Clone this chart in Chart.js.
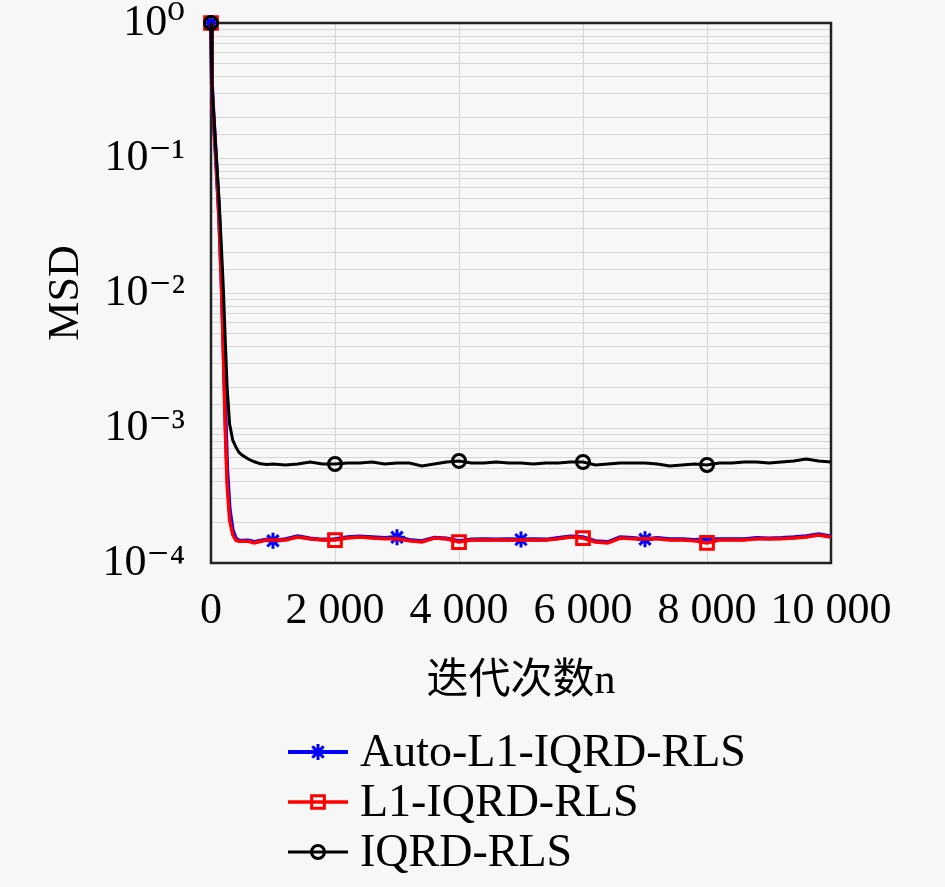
<!DOCTYPE html>
<html>
<head>
<meta charset="utf-8">
<script src="https://cdn.jsdelivr.net/npm/chart.js@4.4.1/dist/chart.umd.min.js"></script>
<style>
  html, body { margin: 0; padding: 0; background: #f7f7f7; }
  #wrap { width: 945px; height: 887px; }
</style>
</head>
<body>
<div id="wrap"><canvas id="msdChart" width="945" height="887"></canvas></div>
<script>
const iterations = [0, 15, 30, 80, 130, 170, 200, 230, 260, 300, 350, 400, 450, 500, 600, 700, 800, 900,
  1000, 1200, 1400, 1600, 1800, 2000, 2200, 2400, 2600, 2800, 3000, 3200, 3400, 3600, 3800,
  4000, 4200, 4400, 4600, 4800, 5000, 5200, 5400, 5600, 5800, 6000, 6200, 6400, 6600, 6800,
  7000, 7200, 7400, 7600, 7800, 8000, 8200, 8400, 8600, 8800, 9000, 9200, 9400, 9600, 9800, 10000];

const autoL1Msd = [1, 0.355, 0.251, 0.1, 0.038, 0.0126, 0.0045, 0.0014, 5.0e-4, 2.5e-4, 1.75e-4, 1.52e-4, 1.47e-4, 1.46e-4, 1.47e-4, 1.43e-4, 1.46e-4, 1.49e-4,
  1.46e-4, 1.50e-4, 1.58e-4, 1.52e-4, 1.49e-4, 1.50e-4, 1.55e-4, 1.57e-4, 1.55e-4, 1.53e-4, 1.55e-4, 1.48e-4, 1.45e-4, 1.54e-4, 1.52e-4,
  1.45e-4, 1.49e-4, 1.50e-4, 1.49e-4, 1.50e-4, 1.49e-4, 1.50e-4, 1.49e-4, 1.53e-4, 1.57e-4, 1.55e-4, 1.45e-4, 1.43e-4, 1.55e-4, 1.53e-4,
  1.50e-4, 1.53e-4, 1.50e-4, 1.50e-4, 1.48e-4, 1.50e-4, 1.50e-4, 1.50e-4, 1.50e-4, 1.53e-4, 1.52e-4, 1.53e-4, 1.55e-4, 1.58e-4, 1.63e-4, 1.57e-4];

const l1Msd = [1, 0.355, 0.251, 0.1, 0.0355, 0.0112, 0.00355, 0.001, 3.8e-4, 2.09e-4, 1.62e-4, 1.48e-4, 1.45e-4, 1.45e-4, 1.45e-4, 1.41e-4, 1.45e-4, 1.48e-4,
  1.48e-4, 1.48e-4, 1.56e-4, 1.51e-4, 1.48e-4, 1.48e-4, 1.53e-4, 1.56e-4, 1.53e-4, 1.51e-4, 1.51e-4, 1.46e-4, 1.43e-4, 1.53e-4, 1.51e-4,
  1.43e-4, 1.48e-4, 1.48e-4, 1.48e-4, 1.48e-4, 1.48e-4, 1.48e-4, 1.48e-4, 1.51e-4, 1.56e-4, 1.53e-4, 1.43e-4, 1.41e-4, 1.53e-4, 1.51e-4,
  1.51e-4, 1.51e-4, 1.48e-4, 1.48e-4, 1.46e-4, 1.41e-4, 1.48e-4, 1.48e-4, 1.48e-4, 1.51e-4, 1.51e-4, 1.51e-4, 1.53e-4, 1.56e-4, 1.61e-4, 1.56e-4];

const iqrdMsd = [1, 0.355, 0.269, 0.112, 0.049, 0.0209, 0.0105, 0.00447, 0.0020, 0.00107, 8.13e-4, 7.24e-4, 6.61e-4, 6.31e-4, 5.89e-4, 5.62e-4, 5.43e-4, 5.37e-4,
  5.41e-4, 5.32e-4, 5.41e-4, 5.60e-4, 5.41e-4, 5.41e-4, 5.50e-4, 5.50e-4, 5.60e-4, 5.41e-4, 5.50e-4, 5.50e-4, 5.23e-4, 5.41e-4, 5.60e-4,
  5.70e-4, 5.50e-4, 5.50e-4, 5.60e-4, 5.50e-4, 5.50e-4, 5.41e-4, 5.50e-4, 5.50e-4, 5.60e-4, 5.60e-4, 5.32e-4, 5.41e-4, 5.50e-4, 5.50e-4,
  5.50e-4, 5.41e-4, 5.23e-4, 5.32e-4, 5.41e-4, 5.32e-4, 5.50e-4, 5.50e-4, 5.60e-4, 5.60e-4, 5.50e-4, 5.60e-4, 5.70e-4, 5.89e-4, 5.70e-4, 5.60e-4];

// where each curve carries a marker
const autoL1Marks = [0, 1000, 3000, 5000, 7000];
const l1Marks = [0, 2000, 4000, 6000, 8000];
const iqrdMarks = [0, 2000, 4000, 6000, 8000];

const seriesNames = ['Auto-L1-IQRD-RLS', 'L1-IQRD-RLS', 'IQRD-RLS'];
const xTicks = [0, 2000, 4000, 6000, 8000, 10000];
const yDecades = [1e-4, 1e-3, 1e-2, 1e-1, 1];

const serif = "'Liberation Serif', 'DejaVu Serif', serif";
const sup = { '0': '\u2070', '1': '\u00b9', '2': '\u00b2', '3': '\u00b3', '4': '\u2074', '-': '\u207b' };

const toPoints = (vals) => vals.map((v, i) => ({ x: iterations[i], y: v }));
const markRadius = (marks, r) => (ctx) => (ctx.raw && marks.includes(ctx.raw.x) ? r : 0);

const series = [
  { label: seriesNames[0], data: toPoints(autoL1Msd), color: '#0000ff', style: 'star', r: 8, marks: autoL1Marks, width: 4, order: 3 },
  { label: seriesNames[1], data: toPoints(l1Msd), color: '#ff0000', style: 'rect', r: 9, marks: l1Marks, width: 3.5, order: 2 },
  { label: seriesNames[2], data: toPoints(iqrdMsd), color: '#000000', style: 'circle', r: 6.5, marks: iqrdMarks, width: 3, order: 1 },
];

// page background
const bgPlugin = {
  id: 'bg',
  beforeDraw(chart) {
    const c = chart.ctx;
    c.save();
    c.fillStyle = '#f7f7f7';
    c.fillRect(0, 0, chart.width, chart.height);
    c.restore();
  },
  // box around the plot
  beforeDatasetsDraw(chart) {
    const { left, top, right, bottom } = chart.chartArea;
    const c = chart.ctx;
    c.save();
    c.strokeStyle = '#222';
    c.lineWidth = 2.5;
    c.strokeRect(left, top, right - left, bottom - top);
    c.restore();
  }
};

// legend stacked below the axes: line sample with marker, then the name
const lineLegend = {
  id: 'lineLegend',
  afterDraw(chart) {
    const c = chart.ctx;
    const drawPoint = Chart.helpers && Chart.helpers.drawPoint;
    c.save();
    series.forEach((s, i) => {
      const y = 752 + i * 50;
      c.strokeStyle = s.color;
      c.lineWidth = s.width;
      c.beginPath();
      c.moveTo(288, y);
      c.lineTo(348, y);
      c.stroke();
      if (drawPoint) {
        c.fillStyle = 'rgba(0,0,0,0)';
        c.strokeStyle = s.color;
        c.lineWidth = 3;
        drawPoint(c, { pointStyle: s.style, radius: s.r, rotation: 0, borderWidth: 3 }, 318, y);
      }
      c.fillStyle = '#000';
      c.font = '46px ' + serif;
      c.textBaseline = 'middle';
      c.textAlign = 'left';
      c.fillText(s.label, 360, y + 2);
    });
    c.restore();
  }
};

const ctx = document.getElementById('msdChart').getContext('2d');

new Chart(ctx, {
  type: 'line',
  data: {
    datasets: series.map((s) => ({
      label: s.label,
      data: s.data,
      borderColor: s.color,
      backgroundColor: 'rgba(0,0,0,0)',
      borderWidth: s.width,
      tension: 0,
      fill: false,
      clip: false,
      order: s.order,
      pointStyle: s.style,
      pointRadius: markRadius(s.marks, s.r),
      pointHoverRadius: 0,
      pointBorderColor: s.color,
      pointBackgroundColor: 'rgba(0,0,0,0)',
      pointBorderWidth: 3,
    })),
  },
  options: {
    responsive: false,
    animation: false,
    events: [],
    layout: { padding: { left: 0, right: 114, top: 23, bottom: 180 } },
    plugins: {
      legend: { display: false },
      tooltip: { enabled: false },
    },
    scales: {
      x: {
        type: 'linear',
        min: 0,
        max: 10000,
        afterFit: (scale) => {
          scale.height = 144;
          scale.paddingLeft = 0;
          scale.paddingRight = 0;
        },
        afterBuildTicks: (scale) => { scale.ticks = xTicks.map((v) => ({ value: v })); },
        grid: { color: '#d6d6d6', lineWidth: 1, drawTicks: false },
        border: { display: false },
        ticks: {
          padding: 26,
          maxRotation: 0,
          autoSkip: false,
          color: '#000',
          font: { family: serif, size: 44, lineHeight: 1 },
          callback: (v) => (v === 0 ? '0' : (v / 1000) + ' 000'),
        },
        title: {
          display: true,
          text: '迭代次数n',
          color: '#000',
          padding: { top: 0, bottom: 0 },
          font: { family: serif + ", 'Noto Sans CJK SC'", size: 42, lineHeight: 1.2 },
        },
      },
      y: {
        type: 'logarithmic',
        min: 1e-4,
        max: 1,
        afterFit: (scale) => {
          scale.width = 211;
          scale.paddingTop = 0;
          scale.paddingBottom = 0;
        },
        grid: { color: '#d6d6d6', lineWidth: 1, drawTicks: false },
        border: { display: false },
        ticks: {
          padding: 26,
          autoSkip: false,
          color: '#000',
          font: { family: serif, size: 44, lineHeight: 1 },
          callback: (v) => {
            const hit = yDecades.find((d) => Math.abs(v - d) / d < 1e-6);
            if (hit === undefined) return '';
            const e = String(Math.round(Math.log10(hit)));
            return '10' + e.split('').map((ch) => sup[ch]).join('');
          },
        },
        title: {
          display: true,
          text: 'MSD',
          color: '#000',
          padding: { top: 40, bottom: 0 },
          font: { family: serif, size: 44, lineHeight: 1.2 },
        },
      },
    },
  },
  plugins: [bgPlugin, lineLegend],
});
</script>
</body>
</html>
